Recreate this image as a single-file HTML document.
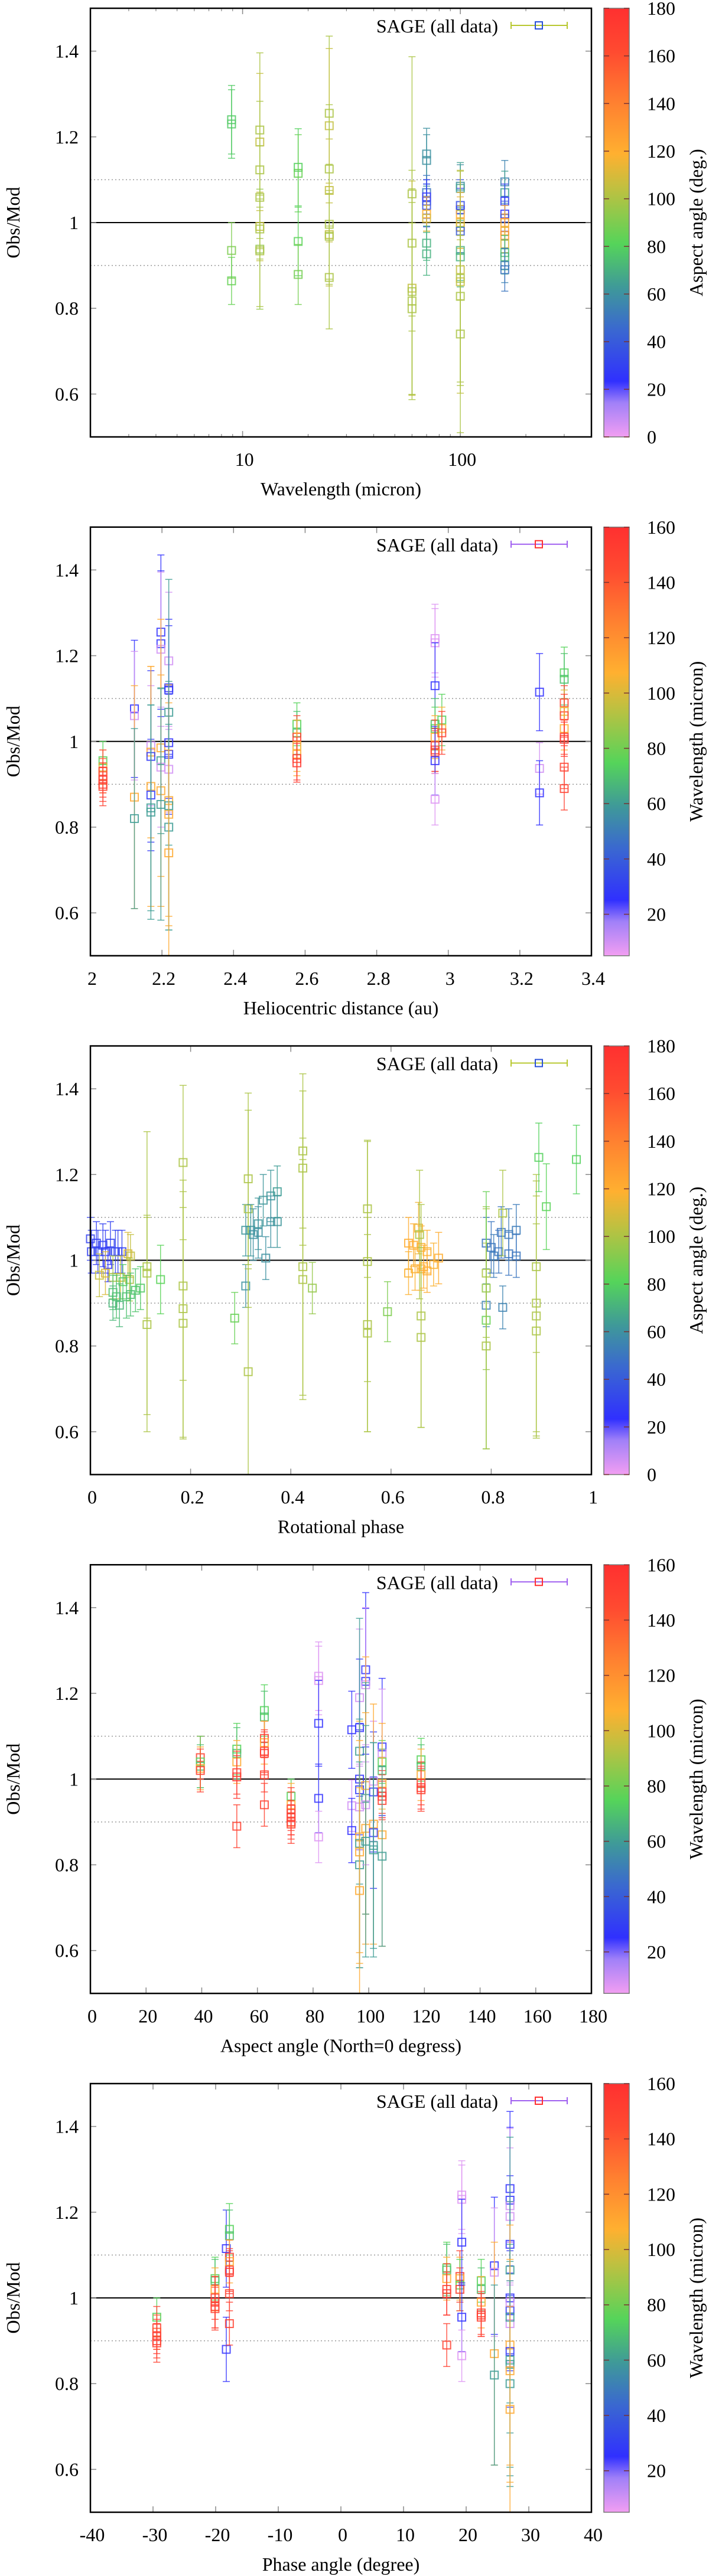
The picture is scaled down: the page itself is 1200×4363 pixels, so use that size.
<!DOCTYPE html>
<html><head><meta charset="utf-8"><style>
html,body{margin:0;padding:0;background:#fff;}
svg{display:block;font-family:"Liberation Serif",serif;}
</style></head><body>
<svg id="fig" xmlns="http://www.w3.org/2000/svg" width="1200" height="4363" viewBox="0 0 1200 4363">
<defs>
<linearGradient id="pal" x1="0" y1="1" x2="0" y2="0">
<stop offset="0" stop-color="#f29ef2"/><stop offset="0.08" stop-color="#a080f8"/>
<stop offset="0.13" stop-color="#3030ff"/><stop offset="0.25" stop-color="#3a68d0"/>
<stop offset="0.35" stop-color="#3f9a98"/><stop offset="0.45" stop-color="#55d45a"/>
<stop offset="0.58" stop-color="#c0c040"/><stop offset="0.66" stop-color="#ffb030"/>
<stop offset="0.78" stop-color="#ff8030"/><stop offset="0.9" stop-color="#ff4a30"/>
<stop offset="1" stop-color="#ff3030"/>
</linearGradient>
</defs>
</svg>
<script>
// ---------- Panel 1: wavelength vs Obs/Mod (colour = aspect angle) ----------
const p1x=[8.9,8.9,8.9,8.9, 12,12,12,12,12,12,12,12, 18,18,18,18, 25,25,25,25,25,25,25,25, 60,60,60,60,60,60, 70,70,70,70,70,70,70,70,70,70, 100,100,100,100,100,100,100,100,100,100,100,100,100,100,100, 160,160,160,160,160,160,160,160,160,160,160,160,160];
const p1y=[1.24,1.23,0.935,0.864, 1.216,1.188,1.123,1.059,0.991,0.985,0.938,0.934, 1.129,1.115,0.956,0.879, 1.255,1.226,1.125,1.075,0.996,0.972,0.968,0.872, 1.067,0.952,0.847,0.839,0.817,0.799, 1.16,1.145,1.07,1.06,1.05,1.04,1.02,1.01,0.952,0.927, 1.085,1.08,1.04,1.03,1.02,1.0,0.99,0.98,0.935,0.92,0.89,0.87,0.862,0.828,0.74, 1.095,1.07,1.05,1.02,1.01,1.0,0.98,0.97,0.95,0.93,0.92,0.9,0.89];
const p1e=[0.08,0.08,0.065,0.055, 0.18,0.16,0.16,0.12,0.08,0.07,0.14,0.13, 0.09,0.09,0.08,0.07, 0.18,0.18,0.15,0.12,0.14,0.12,0.1,0.12, 0.32,0.17,0.25,0.24,0.23,0.2, 0.06,0.06,0.04,0.04,0.04,0.05,0.04,0.03,0.04,0.05, 0.05,0.06,0.06,0.05,0.05,0.06,0.05,0.05,0.07,0.07,0.07,0.25,0.26,0.2,0.23, 0.05,0.05,0.04,0.04,0.04,0.04,0.04,0.04,0.04,0.04,0.04,0.04,0.05];
const p1c=[78,78,90,85, 100,105,100,100,105,100,95,100, 80,85,82,88, 100,105,100,105,100,105,100,100, 100,100,105,100,100,100, 60,60,50,25,30,35,120,110,70,70, 60,65,35,30,120,115,110,40,70,70,105,100,105,100,100, 55,65,30,25,40,120,125,130,110,75,70,55,50];

// ---------- Panel 2: heliocentric distance (colour = wavelength) ----------
const p2x=[2.035,2.035,2.035,2.035,2.035,2.035,2.035, 2.123,2.123,2.123,2.123, 2.169,2.169,2.169,2.169,2.169,2.169,2.169, 2.197,2.197,2.197,2.197,2.197,2.197,2.197,2.197, 2.219,2.219,2.219,2.219,2.219,2.219,2.219,2.219,2.219,2.219,2.219,2.219, 2.577,2.577,2.577,2.577,2.577,2.577,2.577, 2.963,2.963,2.963,2.963,2.963,2.963,2.963,2.963,2.963,2.963,2.963, 2.982,2.982,2.982, 3.255,3.255,3.255, 3.324,3.324,3.324,3.324,3.324,3.324,3.324,3.324,3.324,3.324];
const p2y=[0.955,0.94,0.93,0.92,0.91,0.9,0.895, 1.076,1.06,0.87,0.82, 0.99,0.975,0.965,0.895,0.875,0.845,0.835, 1.255,1.228,1.215,0.985,0.955,0.94,0.885,0.853, 1.188,1.125,1.12,1.068,0.997,0.97,0.935,0.862,0.83,0.85,0.80,0.74, 1.04,1.02,1.01,0.99,0.97,0.96,0.95, 1.24,1.23,1.13,1.04,1.03,1.01,0.99,0.98,0.975,0.955,0.865, 1.05,1.03,1.02, 1.115,0.937,0.88, 1.16,1.145,1.09,1.07,1.06,1.03,1.01,1.005,0.94,0.89];
const p2e=[0.045,0.04,0.05,0.04,0.04,0.04,0.045, 0.16,0.15,0.26,0.21, 0.14,0.2,0.2,0.28,0.13,0.24,0.25, 0.18,0.17,0.18,0.3,0.17,0.14,0.27,0.27, 0.16,0.16,0.15,0.31,0.13,0.14,0.1,0.27,0.26,0.29,0.24,0.24, 0.05,0.05,0.05,0.06,0.05,0.05,0.045, 0.08,0.08,0.1,0.06,0.05,0.05,0.06,0.05,0.05,0.08,0.06, 0.06,0.05,0.05, 0.09,0.06,0.075, 0.06,0.06,0.04,0.05,0.05,0.05,0.04,0.04,0.05,0.05];
const p2c=[75,100,150,140,155,150,150, 25,10,110,60, 10,110,28,110,28,60,60, 25,25,10,110,60,10,110,60, 10,25,28,60,25,28,10,110,110,60,60,110, 75,70,150,105,110,150,155, 8,8,25,70,75,110,150,155,145,25,8, 75,105,150, 25,10,25, 75,70,150,100,150,110,150,155,150,150];

// ---------- Panel 3: rotational phase (colour = aspect angle) ----------
const p3x=[0.0,0.002,0.012,0.015,0.025,0.03,0.035,0.04,0.05,0.055,0.063, 0.018,0.03,0.045,0.06,0.075,0.08,0.078, 0.045,0.045,0.052,0.058,0.065,0.072,0.08,0.09,0.1,0.14, 0.113,0.113,0.113, 0.185,0.185,0.185,0.185, 0.288, 0.31,0.31,0.315,0.315,0.315,0.32,0.325,0.335,0.335,0.345,0.35,0.36,0.36,0.373,0.373, 0.424,0.424,0.424,0.424, 0.443, 0.553,0.553,0.553,0.553, 0.593, 0.635,0.635,0.645,0.648,0.655,0.657,0.66,0.66,0.66,0.66,0.665,0.672,0.672,0.685,0.695, 0.79,0.79,0.79,0.79,0.79,0.79,0.8,0.805,0.815,0.82,0.823,0.823,0.835,0.835,0.85,0.85, 0.89,0.89,0.89,0.89,0.895,0.91,0.97];
const p3y=[1.05,1.02,1.04,1.02,1.035,1.02,0.99,1.04,1.02,1.02,1.02, 0.965,0.97,0.96,0.96,1.015,1.01,0.955, 0.925,0.9,0.915,0.895,0.95,0.915,0.92,0.93,0.935,0.955, 0.85,0.985,0.97, 1.228,0.94,0.887,0.853, 0.865, 1.07,0.94,1.19,1.12,0.74,1.07,1.06,1.085,1.065,1.14,1.005,1.15,1.09,1.16,1.09, 1.255,1.215,0.985,0.955, 0.935, 1.12,0.997,0.85,0.83, 0.88, 1.04,0.97,1.035,0.98,1.075,1.06,1.03,0.98,0.87,0.82,0.985,1.02,0.975,0.99,1.005, 1.04,0.895,0.97,0.935,0.86,0.80,1.03,1.01,1.02,1.065,0.89,1.11,1.06,1.015,1.07,1.01, 0.985,0.9,0.87,0.835,1.24,1.125,1.235];
const p3e=[0.05,0.05,0.05,0.05,0.05,0.05,0.04,0.05,0.05,0.05,0.05, 0.05,0.05,0.05,0.05,0.05,0.05,0.05, 0.04,0.04,0.05,0.05,0.04,0.05,0.05,0.05,0.05,0.08, 0.25,0.12,0.33, 0.18,0.22,0.3,0.27, 0.06, 0.06,0.05,0.2,0.23,0.24,0.06,0.06,0.06,0.06,0.06,0.05,0.06,0.06,0.06,0.06, 0.18,0.18,0.3,0.28, 0.06, 0.16,0.28,0.25,0.23, 0.07, 0.06,0.05,0.05,0.05,0.06,0.15,0.05,0.05,0.26,0.21,0.05,0.05,0.05,0.05,0.06, 0.06,0.05,0.15,0.19,0.3,0.24,0.06,0.05,0.05,0.06,0.05,0.1,0.06,0.05,0.06,0.05, 0.2,0.3,0.28,0.25,0.08,0.1,0.08];
const p3c=[30,30,28,32,30,28,25,30,32,30,30, 105,110,100,105,110,105,100, 75,72,75,72,78,75,75,76,78,82, 100,100,100, 100,100,100,100, 85, 62,60,100,100,100,62,60,62,60,62,60,62,60,64,62, 100,100,100,100, 95, 100,100,100,100, 90, 120,118,120,118,115,100,118,120,100,100,120,118,120,118,120, 50,55,100,95,85,100,50,52,50,50,55,100,52,50,52,50, 100,100,100,100,80,82,80];

// ---------- Panel 4: aspect angle (colour = wavelength) ----------
const p4x=[39.5,39.5,39.5,39.5,39.5, 52.6,52.6,52.6,52.6,52.6,52.6, 62.5,62.5,62.5,62.5,62.5,62.5,62.5,62.5, 72.1,72.1,72.1,72.1,72.1,72.1,72.1, 82,82,82,82,82, 93.9,93.9,93.9, 96.7,96.7,96.7,96.7,96.7,96.7,96.7,96.7,96.7,96.7,96.7, 98.9,98.9,98.9,98.9,98.9,98.9,98.9,98.9, 101.7,101.7,101.7,101.7,101.7,101.7, 104.8,104.8,104.8,104.8,104.8,104.8,104.8,104.8,104.8,104.8, 118.8,118.8,118.8,118.8,118.8,118.8];
const p4y=[1.05,1.04,1.03,1.025,1.02, 1.07,1.06,1.04,1.015,1.005,0.89, 1.16,1.145,1.095,1.085,1.065,1.06,1.01,0.94, 0.96,0.94,0.93,0.92,0.91,0.9,0.895, 1.24,1.23,1.13,0.955,0.865, 1.115,0.938,0.88, 1.19,1.12,1.065,1.0,0.975,0.935,0.865,0.85,0.83,0.80,0.74, 1.255,1.228,1.22,0.985,0.955,0.94,0.885,0.855, 0.995,0.97,0.895,0.875,0.845,0.835, 1.075,1.06,1.04,1.02,0.99,0.97,0.96,0.95,0.87,0.82, 1.045,1.03,1.01,0.99,0.98,0.975];
const p4e=[0.05,0.06,0.05,0.05,0.05, 0.06,0.06,0.05,0.05,0.05,0.05, 0.06,0.06,0.04,0.05,0.05,0.05,0.04,0.05, 0.04,0.05,0.05,0.05,0.04,0.04,0.045, 0.08,0.08,0.1,0.08,0.06, 0.09,0.06,0.075, 0.16,0.16,0.31,0.13,0.14,0.1,0.27,0.29,0.26,0.24,0.24, 0.18,0.17,0.18,0.3,0.27,0.14,0.27,0.27, 0.14,0.14,0.28,0.13,0.24,0.25, 0.16,0.15,0.05,0.05,0.06,0.05,0.05,0.045,0.26,0.21, 0.05,0.05,0.06,0.05,0.05,0.05];
const p4c=[150,75,70,110,150, 75,70,110,150,155,150, 75,70,150,110,150,155,150,150, 75,110,150,150,155,150,150, 8,8,25,25,8, 25,10,25, 10,25,60,25,28,10,110,60,110,60,110, 25,25,10,110,60,10,110,60, 10,28,110,28,60,60, 25,10,75,70,105,150,155,150,110,60, 75,70,110,150,155,150];

// ---------- Panel 5: phase angle (colour = wavelength) ----------
const p5x=[-29.4,-29.4,-29.4,-29.4,-29.4,-29.4, -20.1,-20.1,-20.1,-20.1,-20.1,-20.1,-20.1, -18.3,-18.3, -17.8,-17.8,-17.8,-17.8,-17.8,-17.8,-17.8,-17.8, 16.9,16.9,16.9,16.9,16.9,16.9, 19.0,19.0,19.0,19.0, 19.3,19.3,19.3,19.3,19.3, 22.4,22.4,22.4,22.4,22.4,22.4, 24.5,24.5,24.5,24.5, 27,27,27,27,27,27,27,27,27,27,27,27,27,27,27,27,27,27];
const p5y=[0.955,0.93,0.92,0.91,0.9,0.895, 1.045,1.04,1.02,1.0,0.99,0.98,0.975, 1.115,0.88, 1.16,1.145,1.095,1.085,1.065,1.06,1.01,0.94, 1.07,1.065,1.045,1.02,1.01,0.89, 1.05,1.045,1.03,1.02, 1.24,1.23,1.13,0.955,0.865, 1.04,1.02,0.99,0.965,0.96,0.955, 1.075,1.06,0.87,0.82, 1.255,1.228,1.215,1.19,1.125,1.065,1.0,0.97,0.99,0.94,0.955,0.89,0.875,0.855,0.845,0.83,0.80,0.74];
const p5e=[0.045,0.05,0.04,0.04,0.04,0.045, 0.05,0.05,0.05,0.05,0.06,0.05,0.05, 0.09,0.075, 0.06,0.06,0.04,0.05,0.05,0.05,0.04,0.05, 0.06,0.06,0.05,0.06,0.05,0.05, 0.06,0.05,0.06,0.05, 0.08,0.08,0.1,0.08,0.06, 0.05,0.05,0.06,0.05,0.05,0.045, 0.16,0.15,0.26,0.21, 0.18,0.17,0.18,0.16,0.16,0.31,0.13,0.14,0.14,0.1,0.27,0.28,0.13,0.27,0.24,0.26,0.24,0.24];
const p5c=[75,150,140,155,150,150, 75,70,110,150,155,150,150, 25,25, 75,70,150,110,150,155,150,150, 75,70,110,150,155,150, 150,110,75,150, 8,8,25,25,8, 75,70,110,150,155,150, 25,10,110,60, 25,25,10,10,25,60,25,28,10,10,60,110,28,60,60,110,60,110];

const aspectTicks=[0,20,40,60,80,100,120,140,160,180];
const waveTicks=[20,40,60,80,100,120,140,160];

const NS="http://www.w3.org/2000/svg";
const svg=document.getElementById('fig');
const PL=153, PR=1001, PH=726, CBL=1022, CBR=1065;
const stops=[[0,[242,158,242]],[0.08,[160,128,248]],[0.13,[48,48,255]],[0.25,[58,104,208]],[0.35,[63,154,152]],[0.45,[85,212,90]],[0.58,[192,192,64]],[0.66,[255,176,48]],[0.78,[255,128,48]],[0.9,[255,74,48]],[1,[255,48,48]]];
function pal(t){t=Math.max(0,Math.min(1,t));for(let i=1;i<stops.length;i++){if(t<=stops[i][0]){const a=stops[i-1],b=stops[i];const f=(t-a[0])/(b[0]-a[0]);const c=a[1].map((v,j)=>Math.round(v+(b[1][j]-v)*f));return `rgb(${c[0]},${c[1]},${c[2]})`;}}return 'rgb(255,48,48)';}
function mk(tag,attrs,parent){const e=document.createElementNS(NS,tag);for(const k in attrs)e.setAttribute(k,attrs[k]);(parent||svg).appendChild(e);return e;}
function txt(s,x,y,anchor,parent,extra){const t=mk('text',Object.assign({x:x,y:y,'text-anchor':anchor,'font-size':32,'dominant-baseline':'central',fill:'#000'},extra||{}),parent);t.textContent=s;return t;}

function drawPanel(k,cfg){
  const top=14+878.75*k, bot=top+PH;
  const g=mk('g',{});
  
  
  const ymap=v=>bot-(v-0.5)/1.0*PH;
  const xmap=cfg.xmap;
  // reference lines
  const l1=mk('line',{x1:PL,x2:PR,y1:ymap(1.1),y2:ymap(1.1),stroke:'#999','stroke-width':1.5,'stroke-dasharray':'2,4'},g);
  
  
  const l2=mk('line',{x1:PL,x2:PR,y1:ymap(0.9),y2:ymap(0.9),stroke:'#999','stroke-width':1.5,'stroke-dasharray':'2,4'},g);
  
  
  const l3=mk('line',{x1:PL,x2:PR,y1:ymap(1),y2:ymap(1),stroke:'#000','stroke-width':2},g);
  
  
  // y ticks
  [0.6,0.8,1.0,1.2,1.4].forEach(v=>{
    const y=ymap(v);
    mk('line',{x1:PL,x2:PL+10,y1:y,y2:y,stroke:'#888','stroke-width':1.5},g);
    mk('line',{x1:PR-10,x2:PR,y1:y,y2:y,stroke:'#888','stroke-width':1.5},g);
    const t=txt(v===1?'1':String(v),133,y,'end',g);
    
    
  });
  // x ticks
  cfg.minor.forEach(v=>{const x=xmap(v);mk('line',{x1:x,x2:x,y1:bot,y2:bot-5,stroke:'#888','stroke-width':1.2},g);mk('line',{x1:x,x2:x,y1:top,y2:top+5,stroke:'#888','stroke-width':1.2},g);});
  cfg.xt.forEach((v,i)=>{
    const x=xmap(v);
    mk('line',{x1:x,x2:x,y1:bot,y2:bot-10,stroke:'#888','stroke-width':1.5},g);
    mk('line',{x1:x,x2:x,y1:top,y2:top+10,stroke:'#888','stroke-width':1.5},g);
    const t=txt(cfg.xl[i],x+3,bot+38,'middle',g);
    
    
  });
  // data
  const pts=mk('g',{},g);
  
  
  for(let i=0;i<cfg.y.length;i++){
    const x=xmap(cfg.x[i]), y=ymap(cfg.y[i]);
    const y1=ymap(cfg.y[i]+cfg.e[i]), y2=ymap(cfg.y[i]-cfg.e[i]);
    const col=pal((cfg.c[i]-cfg.cmin)/(cfg.cmax-cfg.cmin));
    const p=mk('g',{stroke:col,fill:'none','stroke-opacity':0.85},pts);
    
    
    mk('line',{x1:x,x2:x,y1:y1,y2:y2,'stroke-width':1.5},p);
    mk('line',{x1:x-6,x2:x+6,y1:y1,y2:y1,'stroke-width':1.5},p);
    mk('line',{x1:x-6,x2:x+6,y1:y2,y2:y2,'stroke-width':1.5},p);
    mk('rect',{x:x-6.5,y:y-6.5,width:13,height:13,'stroke-width':2},p);
  }
  // frame
  const fr=mk('rect',{x:PL,y:top,width:PR-PL,height:PH,fill:'none',stroke:'#000','stroke-width':2.5},g);
  
  
  // legend
  const lg=mk('g',{},g);
  
  
  txt('SAGE (all data)',843,top+30,'end',lg);
  mk('line',{x1:865,x2:960,y1:top+29,y2:top+29,stroke:cfg.legLine,'stroke-width':2},lg);
  mk('line',{x1:865,x2:865,y1:top+23,y2:top+35,stroke:cfg.legLine,'stroke-width':2},lg);
  mk('line',{x1:960,x2:960,y1:top+23,y2:top+35,stroke:cfg.legLine,'stroke-width':2},lg);
  mk('rect',{x:906,y:top+23,width:12,height:12,fill:'none',stroke:cfg.legSq,'stroke-width':2},lg);
  // axis labels
  const xt=txt(cfg.xlabel,577,bot+88,'middle',g);
  
  
  const yt=txt('Obs/Mod',0,0,'middle',g,{transform:`translate(22,${top+PH/2}) rotate(-90)`});
  
  
  // colorbar
  const cb=mk('g',{},g);
  
  
  mk('rect',{x:CBL,y:top,width:CBR-CBL,height:PH,fill:'url(#pal)',stroke:'#777','stroke-width':1.5},cb);
  const cmap=v=>bot-(v-cfg.cmin)/(cfg.cmax-cfg.cmin)*PH;
  cfg.ct.forEach(v=>{
    const y=cmap(v);
    mk('line',{x1:CBL,x2:CBL+9,y1:y,y2:y,stroke:'#733','stroke-width':1.5},cb);
    mk('line',{x1:CBR-9,x2:CBR,y1:y,y2:y,stroke:'#733','stroke-width':1.5},cb);
    const t=txt(String(v),1095,y,'start',cb);
    
    
  });
  const ct=txt(cfg.clabel,0,0,'middle',cb,{transform:`translate(1178,${top+PH/2}) rotate(-90)`});
  
  
}
function lin(a,b){return v=>PL+(v-a)/(b-a)*(PR-PL);}
const logmap=v=>PL+(Math.log10(v)-Math.log10(2))/(Math.log10(400)-Math.log10(2))*(PR-PL);
const minorLog=[2,3,4,5,6,7,8,9,20,30,40,50,60,70,80,90,200,300,400];
drawPanel(0,{x:p1x,y:p1y,e:p1e,c:p1c,cmin:0,cmax:180,ct:aspectTicks,clabel:'Aspect angle (deg.)',xmap:logmap,xt:[10,100],xl:['10','100'],minor:minorLog,xlabel:'Wavelength (micron)',legLine:'#b8c830',legSq:'#2850d8'});
drawPanel(1,{x:p2x,y:p2y,e:p2e,c:p2c,cmin:5,cmax:160,ct:waveTicks,clabel:'Wavelength (micron)',xmap:lin(2,3.4),xt:[2,2.2,2.4,2.6,2.8,3,3.2,3.4],xl:['2','2.2','2.4','2.6','2.8','3','3.2','3.4'],minor:[],xlabel:'Heliocentric distance (au)',legLine:'#a060f0',legSq:'#ff3030'});
drawPanel(2,{x:p3x,y:p3y,e:p3e,c:p3c,cmin:0,cmax:180,ct:aspectTicks,clabel:'Aspect angle (deg.)',xmap:lin(0,1),xt:[0,0.2,0.4,0.6,0.8,1],xl:['0','0.2','0.4','0.6','0.8','1'],minor:[],xlabel:'Rotational phase',legLine:'#b8c830',legSq:'#2850d8'});
drawPanel(3,{x:p4x,y:p4y,e:p4e,c:p4c,cmin:5,cmax:160,ct:waveTicks,clabel:'Wavelength (micron)',xmap:lin(0,180),xt:[0,20,40,60,80,100,120,140,160,180],xl:['0','20','40','60','80','100','120','140','160','180'],minor:[],xlabel:'Aspect angle (North=0 degress)',legLine:'#a060f0',legSq:'#ff3030'});
drawPanel(4,{x:p5x,y:p5y,e:p5e,c:p5c,cmin:5,cmax:160,ct:waveTicks,clabel:'Wavelength (micron)',xmap:lin(-40,40),xt:[-40,-30,-20,-10,0,10,20,30,40],xl:['-40','-30','-20','-10','0','10','20','30','40'],minor:[],xlabel:'Phase angle (degree)',legLine:'#a060f0',legSq:'#ff3030'});
</script>
</body></html>
